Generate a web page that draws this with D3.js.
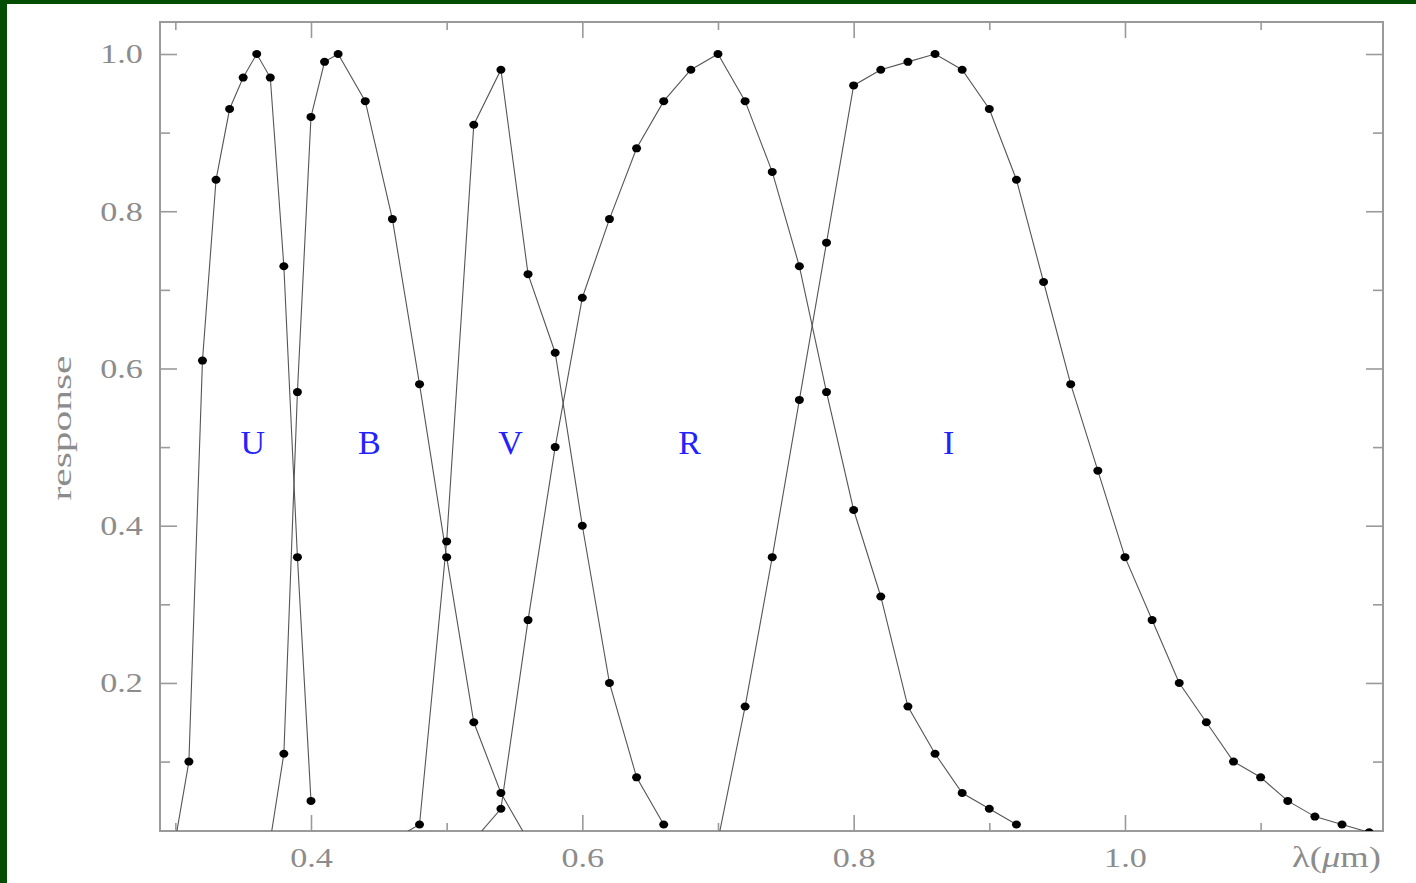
<!DOCTYPE html>
<html>
<head>
<meta charset="utf-8">
<script src="https://cdn.jsdelivr.net/npm/d3@7"></script>
<style>
  html, body { margin: 0; padding: 0; background: #ffffff; }
  svg { display: block; }
</style>
</head>
<body>
<svg id="chart" width="1416" height="883"></svg>
<script>
// UBVRI filter response curves: wavelength (micron) and relative response
const bandNames = ["U", "B", "V", "R", "I"];

const uWave = [0.30, 0.31, 0.32, 0.33, 0.34, 0.35, 0.36, 0.37, 0.38, 0.39, 0.40];
const uResp = [0.00, 0.10, 0.61, 0.84, 0.93, 0.97, 1.00, 0.97, 0.73, 0.36, 0.05];

const bWave = [0.37, 0.38, 0.39, 0.40, 0.41, 0.42, 0.44, 0.46, 0.48, 0.50, 0.52, 0.54, 0.56];
const bResp = [0.00, 0.11, 0.57, 0.92, 0.99, 1.00, 0.94, 0.79, 0.58, 0.36, 0.15, 0.06, 0.00];

const vWave = [0.46, 0.48, 0.50, 0.52, 0.54, 0.56, 0.58, 0.60, 0.62, 0.64, 0.66];
const vResp = [0.00, 0.02, 0.38, 0.91, 0.98, 0.72, 0.62, 0.40, 0.20, 0.08, 0.02];

const rWave = [0.52, 0.54, 0.56, 0.58, 0.60, 0.62, 0.64, 0.66, 0.68, 0.70, 0.72,
               0.74, 0.76, 0.78, 0.80, 0.82, 0.84, 0.86, 0.88, 0.90, 0.92];
const rResp = [0.00, 0.04, 0.28, 0.50, 0.69, 0.79, 0.88, 0.94, 0.98, 1.00, 0.94,
               0.85, 0.73, 0.57, 0.42, 0.31, 0.17, 0.11, 0.06, 0.04, 0.02];

const iWave = [0.70, 0.72, 0.74, 0.76, 0.78, 0.80, 0.82, 0.84, 0.86, 0.88, 0.90, 0.92, 0.94,
               0.96, 0.98, 1.00, 1.02, 1.04, 1.06, 1.08, 1.10, 1.12, 1.14, 1.16, 1.18];
const iResp = [0.00, 0.17, 0.36, 0.56, 0.76, 0.96, 0.98, 0.99, 1.00, 0.98, 0.93, 0.84, 0.71,
               0.58, 0.47, 0.36, 0.28, 0.20, 0.15, 0.10, 0.08, 0.05, 0.03, 0.02, 0.01];

// where each band name is written (wavelength, response)
const labelWave = [0.357, 0.443, 0.547, 0.679, 0.870];
const labelResp = [0.50, 0.50, 0.50, 0.50, 0.50];

// axis ticks
const xMajor = [0.4, 0.6, 0.8, 1.0];
const xMinor = [0.3, 0.5, 0.7, 0.9, 1.1];
const yMajor = [0.2, 0.4, 0.6, 0.8, 1.0];
const yMinor = [0.1, 0.3, 0.5, 0.7, 0.9];

const waves = [uWave, bWave, vWave, rWave, iWave];
const resps = [uResp, bResp, vResp, rResp, iResp];
const bands = bandNames.map((name, k) => ({
  name,
  points: waves[k].map((w, j) => ({ w, r: resps[k][j] })),
  label: { w: labelWave[k], r: labelResp[k] }
}));

const svg = d3.select("#chart");
const W = 1416, H = 883;
const plot = { left: 160, right: 1383, top: 22, bottom: 831 };

// page background and green edge
svg.append("rect").attr("width", W).attr("height", H).attr("fill", "#ffffff");
svg.append("rect").attr("x", 0).attr("y", 0).attr("width", 7).attr("height", H).attr("fill", "#024d02");
svg.append("rect").attr("x", 0).attr("y", 0).attr("width", W).attr("height", 4).attr("fill", "#024d02");

const x = d3.scaleLinear().domain([0.2887, 1.1902]).range([plot.left, plot.right]);
const y = d3.scaleLinear().domain([0.0117, 1.0407]).range([plot.bottom, plot.top]);

const axisColor = "#9a9a9a";
const textColor = "#8c8c8c";
const serif = "'Liberation Serif', 'Times New Roman', serif";
const stretch = "scale(1.22,1)";

svg.append("defs").append("clipPath").attr("id", "plotClip")
  .append("rect")
  .attr("x", plot.left).attr("y", plot.top)
  .attr("width", plot.right - plot.left).attr("height", plot.bottom - plot.top);

function styleAxis(g) {
  g.select(".domain").remove();
  g.selectAll(".tick line").attr("stroke", axisColor).attr("stroke-width", 1.6);
  g.selectAll(".tick text")
    .attr("fill", textColor)
    .attr("font-family", serif)
    .attr("font-size", 28);
}

// bottom axis with labels
svg.append("g").attr("transform", `translate(0,${plot.bottom})`)
  .call(d3.axisBottom(x).tickValues(xMajor).tickSize(-16).tickSizeOuter(0)
    .tickPadding(16).tickFormat(d3.format(".1f")))
  .call(styleAxis)
  .call(g => g.selectAll(".tick text").attr("transform", stretch));
svg.append("g").attr("transform", `translate(0,${plot.bottom})`)
  .call(d3.axisBottom(x).tickValues(xMinor).tickSize(-8).tickSizeOuter(0).tickFormat(""))
  .call(styleAxis);

// top axis (ticks only)
svg.append("g").attr("transform", `translate(0,${plot.top})`)
  .call(d3.axisTop(x).tickValues(xMajor).tickSize(-16).tickSizeOuter(0).tickFormat(""))
  .call(styleAxis);
svg.append("g").attr("transform", `translate(0,${plot.top})`)
  .call(d3.axisTop(x).tickValues(xMinor).tickSize(-8).tickSizeOuter(0).tickFormat(""))
  .call(styleAxis);

// left axis with labels
svg.append("g").attr("transform", `translate(${plot.left},0)`)
  .call(d3.axisLeft(y).tickValues(yMajor).tickSize(-17).tickSizeOuter(0)
    .tickPadding(14).tickFormat(d3.format(".1f")))
  .call(styleAxis)
  .call(g => g.selectAll(".tick text").attr("transform", stretch));
svg.append("g").attr("transform", `translate(${plot.left},0)`)
  .call(d3.axisLeft(y).tickValues(yMinor).tickSize(-10).tickSizeOuter(0).tickFormat(""))
  .call(styleAxis);

// right axis (ticks only)
svg.append("g").attr("transform", `translate(${plot.right},0)`)
  .call(d3.axisRight(y).tickValues(yMajor).tickSize(-17).tickSizeOuter(0).tickFormat(""))
  .call(styleAxis);
svg.append("g").attr("transform", `translate(${plot.right},0)`)
  .call(d3.axisRight(y).tickValues(yMinor).tickSize(-10).tickSizeOuter(0).tickFormat(""))
  .call(styleAxis);

// frame
svg.append("rect")
  .attr("x", plot.left).attr("y", plot.top)
  .attr("width", plot.right - plot.left).attr("height", plot.bottom - plot.top)
  .attr("fill", "none").attr("stroke", axisColor).attr("stroke-width", 2);

// curves and sample points
const line = d3.line().x(d => x(d.w)).y(d => y(d.r));
const curves = svg.append("g").attr("clip-path", "url(#plotClip)");

curves.selectAll("path.band")
  .data(bands)
  .join("path")
  .attr("class", "band")
  .attr("d", d => line(d.points))
  .attr("fill", "none")
  .attr("stroke", "#555555")
  .attr("stroke-width", 1.1);

curves.selectAll("g.dots")
  .data(bands)
  .join("g")
  .attr("class", "dots")
  .selectAll("ellipse")
  .data(d => d.points)
  .join("ellipse")
  .attr("cx", d => x(d.w))
  .attr("cy", d => y(d.r))
  .attr("rx", 4.5)
  .attr("ry", 4.0)
  .attr("fill", "#000000");

// band names
svg.selectAll("text.bandName")
  .data(bands)
  .join("text")
  .attr("class", "bandName")
  .attr("x", d => x(d.label.w))
  .attr("y", d => y(d.label.r))
  .attr("dy", "0.2em")
  .attr("text-anchor", "middle")
  .attr("font-family", serif)
  .attr("font-size", 34)
  .attr("fill", "#2222ff")
  .text(d => d.name);

// axis titles
svg.append("text")
  .attr("transform", "translate(71,428) rotate(-90)")
  .attr("text-anchor", "middle")
  .attr("font-family", serif)
  .attr("font-size", 28)
  .attr("fill", textColor)
  .attr("textLength", 145)
  .attr("lengthAdjust", "spacingAndGlyphs")
  .text("response");

const xTitle = svg.append("text")
  .attr("transform", `translate(${plot.right - 2},867) ${stretch}`)
  .attr("text-anchor", "end")
  .attr("font-family", serif)
  .attr("font-size", 30)
  .attr("fill", textColor);
xTitle.append("tspan").text("λ(");
xTitle.append("tspan").attr("font-style", "italic").text("μ");
xTitle.append("tspan").text("m)");
</script>
</body>
</html>
